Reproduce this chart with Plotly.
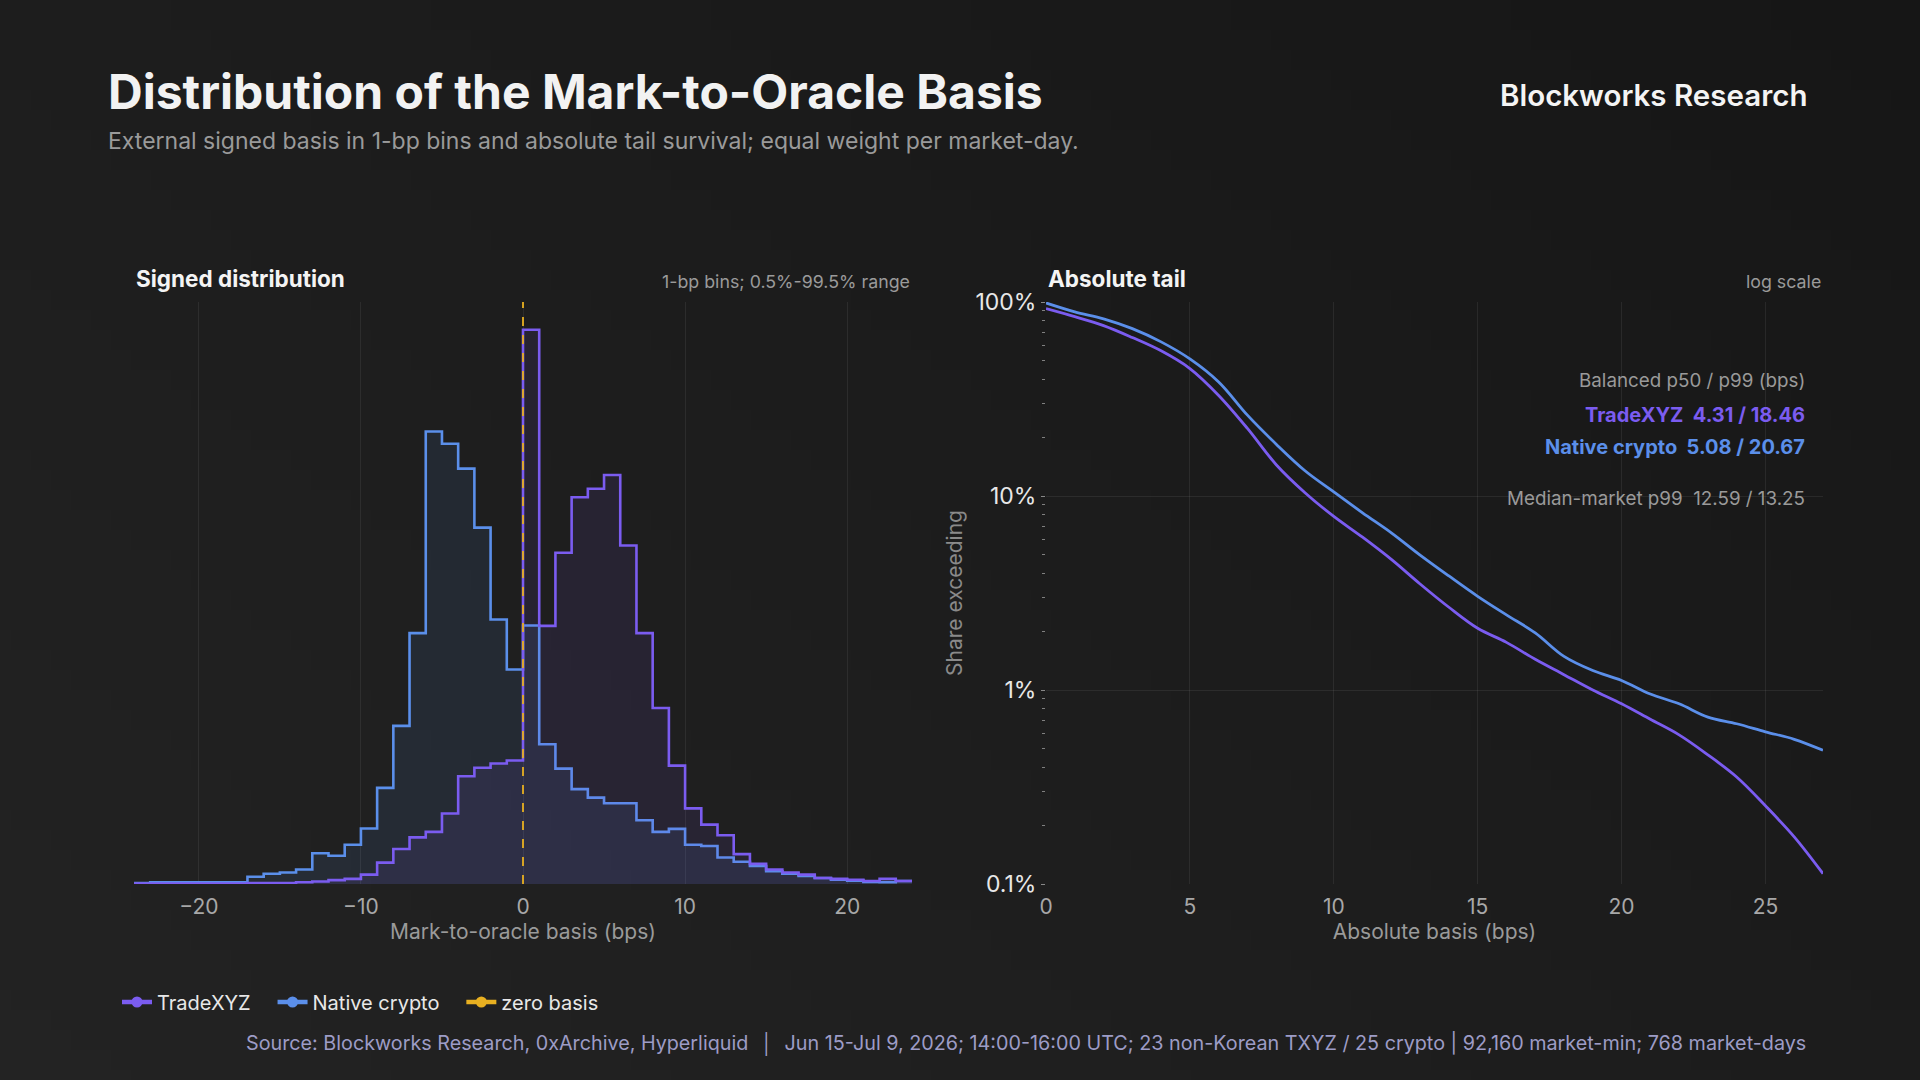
import base64
import struct
import zlib

import plotly.graph_objects as go
from plotly.subplots import make_subplots

# ---------------- data ----------------
bin_left_edges = list(range(-24, 24))  # 1-bp bins from -24 to 23 (left edges)
bin_right_end = 24

# share per 1-bp bin (%), signed basis
tradexyz_hist = [0.01, 0.01, 0.01, 0.01, 0.01, 0.01, 0.01, 0.02, 0.02, 0.02,
                 0.04, 0.06, 0.09, 0.12, 0.22, 0.50, 0.82, 1.09, 1.22, 1.65,
                 2.52, 2.72, 2.82, 2.89, 12.97, 6.04, 7.75, 9.05, 9.25, 9.57,
                 7.92, 5.87, 4.12, 2.77, 1.77, 1.39, 1.14, 0.70, 0.47, 0.34,
                 0.27, 0.22, 0.14, 0.12, 0.10, 0.07, 0.12, 0.07]
native_hist = [0.02, 0.04, 0.04, 0.04, 0.04, 0.04, 0.04, 0.17, 0.24, 0.27,
               0.34, 0.72, 0.66, 0.92, 1.30, 2.25, 3.70, 5.87, 10.59, 10.30,
               9.72, 8.34, 6.19, 5.02, 6.05, 3.27, 2.70, 2.22, 2.02, 1.89,
               1.89, 1.49, 1.22, 1.29, 0.92, 0.89, 0.62, 0.52, 0.42, 0.30,
               0.24, 0.19, 0.14, 0.10, 0.08, 0.05, 0.04, 0.07]

# survival curve: share of |basis| exceeding threshold (%)
tail_x = list(range(0, 28))
tradexyz_tail = [92.4, 84.0, 75.6, 65.6, 56.0, 45.4, 33.0, 22.3, 14.5, 10.4,
                 7.85, 6.13, 4.71, 3.52, 2.67, 2.08, 1.76, 1.44, 1.20, 1.00,
                 0.849, 0.706, 0.587, 0.463, 0.356, 0.253, 0.175, 0.113]
native_tail = [98.9, 89.0, 81.9, 72.9, 62.3, 50.9, 38.7, 26.1, 18.5, 13.5,
               10.5, 8.19, 6.46, 4.96, 3.87, 3.04, 2.44, 1.97, 1.49, 1.26,
               1.12, 0.953, 0.849, 0.725, 0.670, 0.609, 0.557, 0.489]

left_ticks = [-20, -10, 0, 10, 20]
right_xticks = [0, 5, 10, 15, 20, 25]
right_yticks = [0.1, 1, 10, 100]
right_yticklabels = ["0.1%", "1%", "10%", "100%"]
right_yminor = [m * d for d in (0.1, 1, 10) for m in range(2, 10)]

stats_header = "Balanced p50 / p99 (bps)"
stats_txyz = "TradeXYZ  4.31 / 18.46"
stats_native = "Native crypto  5.08 / 20.67"
stats_median = "Median-market p99  12.59 / 13.25"

# ---------------- style ----------------
BG = "#1b1b1b"
PURPLE = "#7B5CF0"
BLUE = "#5B8FEA"
YELLOW = "#E8B021"
FONT = "Inter"
GRID = "rgba(255,255,255,0.07)"
NB = "\u00a0"


def gradient_png(w=96, h=54):
    # diagonal background gradient: lighter bottom-left, darker top-right
    rows = b""
    for j in range(h):
        row = b"\x00"
        for i in range(w):
            t = (i / (w - 1)) * 0.55 + (1 - j / (h - 1)) * 0.45
            v = int(round(35 - t * 13))
            row += bytes((v, v, v))
        rows += row

    def chunk(tag, data):
        c = struct.pack(">I", len(data)) + tag + data
        return c + struct.pack(">I", zlib.crc32(tag + data) & 0xFFFFFFFF)

    png = b"\x89PNG\r\n\x1a\n"
    png += chunk(b"IHDR", struct.pack(">IIBBBBB", w, h, 8, 2, 0, 0, 0))
    png += chunk(b"IDAT", zlib.compress(rows, 9))
    png += chunk(b"IEND", b"")
    return "data:image/png;base64," + base64.b64encode(png).decode()


fig = make_subplots(rows=1, cols=2)

hx = bin_left_edges + [bin_right_end]
fig.add_trace(go.Scatter(
    x=hx, y=native_hist + [native_hist[-1]], mode="lines", line_shape="hv",
    line=dict(color=BLUE, width=2.6), fill="tozeroy",
    fillcolor="rgba(91,143,234,0.10)", showlegend=False, hoverinfo="skip"),
    row=1, col=1)
fig.add_trace(go.Scatter(
    x=hx, y=tradexyz_hist + [tradexyz_hist[-1]], mode="lines", line_shape="hv",
    line=dict(color=PURPLE, width=2.6), fill="tozeroy",
    fillcolor="rgba(123,92,240,0.10)", showlegend=False, hoverinfo="skip"),
    row=1, col=1)
ymax_left = max(tradexyz_hist) * 1.05
fig.add_trace(go.Scatter(
    x=[0, 0], y=[0, ymax_left], mode="lines",
    line=dict(color=YELLOW, width=1.8, dash="dash"),
    showlegend=False, hoverinfo="skip"), row=1, col=1)

fig.add_trace(go.Scatter(
    x=tail_x, y=native_tail, mode="lines", line_shape="spline",
    line=dict(color=BLUE, width=2.8), showlegend=False), row=1, col=2)
fig.add_trace(go.Scatter(
    x=tail_x, y=tradexyz_tail, mode="lines", line_shape="spline",
    line=dict(color=PURPLE, width=2.8), showlegend=False), row=1, col=2)

# legend-only traces
for name, col in [("TradeXYZ", PURPLE), ("Native crypto", BLUE), ("zero basis", YELLOW)]:
    fig.add_trace(go.Scatter(x=[None], y=[None], mode="lines+markers", name=name + NB * 3,
                             line=dict(color=col, width=4.5),
                             marker=dict(color=col, size=11)), row=1, col=1)

ydom = [1 - 884 / 1080, 1 - 302 / 1080]
fig.update_xaxes(row=1, col=1, domain=[134 / 1920, 912 / 1920], range=[-24, 24],
                 tickvals=left_ticks, showgrid=True, gridcolor=GRID, zeroline=False,
                 showline=False, ticks="", ticklabelstandoff=8, automargin=False,
                 tickfont=dict(size=21, color="#a8a8a8", family=FONT),
                 title=dict(text="Mark-to-oracle basis (bps)", standoff=6,
                            font=dict(size=21, color="#9a9a9a", family=FONT)))
fig.update_yaxes(row=1, col=1, domain=ydom, range=[0, ymax_left], visible=False,
                 showgrid=False, automargin=False)

fig.update_xaxes(row=1, col=2, domain=[1046 / 1920, 1823 / 1920], range=[0, 27],
                 tickvals=right_xticks, showgrid=True, gridcolor=GRID, zeroline=False,
                 showline=False, ticks="", ticklabelstandoff=8, automargin=False,
                 tickfont=dict(size=21, color="#a8a8a8", family=FONT),
                 title=dict(text="Absolute basis (bps)", standoff=6,
                            font=dict(size=21, color="#9a9a9a", family=FONT)))
fig.update_yaxes(row=1, col=2, domain=ydom, type="log", range=[-1, 2],
                 tickvals=right_yticks, ticktext=right_yticklabels, automargin=False,
                 showgrid=True, gridcolor=GRID, zeroline=False,
                 showline=False, ticks="outside", ticklen=4, tickcolor="#888888",
                 minor=dict(tickvals=right_yminor, ticks="outside", ticklen=3,
                            tickcolor="#808080", showgrid=False),
                 tickfont=dict(size=23, color="#e8e8e8", family=FONT),
                 title=dict(text="Share exceeding", standoff=7,
                            font=dict(size=21, color="#8a8a8a", family=FONT)))

ann = []


def txt(x, y, s, size, color, xa="left", ya="middle", weight="normal"):
    ann.append(dict(x=x, y=y, xref="paper", yref="paper", text=s,
                    showarrow=False, xanchor=xa, yanchor=ya,
                    font=dict(size=size, color=color, family=FONT, weight=weight)))


txt(106 / 1920, 1 - 91 / 1080, "Distribution of the Mark-to-Oracle Basis", 48, "#f2f2f2", weight="bold")
txt(106 / 1920, 1 - 141 / 1080,
    "External signed basis in 1-bp bins and absolute tail survival; equal weight per market-day.",
    23, "#9a9a9a")
txt(1810 / 1920, 1 - 95 / 1080, "Blockworks Research", 29.5, "#f4f4f4", xa="right", weight=600)

txt(134 / 1920, 1 - 279 / 1080, "Signed distribution", 22.5, "#f4f4f4", weight="bold")
txt(912 / 1920, 1 - 282 / 1080, "1-bp bins; 0.5%-99.5% range", 17.8, "#9a9a9a", xa="right")
txt(1046 / 1920, 1 - 279 / 1080, "Absolute tail", 22.5, "#f4f4f4", weight="bold")
txt(1823 / 1920, 1 - 282 / 1080, "log scale", 17.8, "#9a9a9a", xa="right")

txt(1807 / 1920, 1 - 380 / 1080, stats_header, 18.8, "#9a9a9a", xa="right")
txt(1807 / 1920, 1 - 415 / 1080, stats_txyz, 20, PURPLE, xa="right", weight="bold")
txt(1807 / 1920, 1 - 447 / 1080, stats_native, 20, BLUE, xa="right", weight="bold")
txt(1807 / 1920, 1 - 498 / 1080, stats_median, 18.8, "#9a9a9a", xa="right")

txt(1808 / 1920, 1 - 1043 / 1080,
    "Source: Blockworks Research, 0xArchive, Hyperliquid  \u2502  Jun 15-Jul 9, 2026; 14:00-16:00 UTC; "
    "23 non-Korean TXYZ / 25 crypto | 92,160 market-min; 768 market-days",
    19.75, "#9d9cc6", xa="right")

fig.update_layout(
    width=1920, height=1080,
    margin=dict(l=0, r=0, t=0, b=0, pad=0, autoexpand=False),
    paper_bgcolor=BG, plot_bgcolor="rgba(0,0,0,0)",
    font=dict(family=FONT, color="#cccccc"),
    annotations=ann,
    images=[dict(source=gradient_png(), xref="paper", yref="paper", x=0, y=1,
                 sizex=1, sizey=1, sizing="stretch", layer="below",
                 xanchor="left", yanchor="top")],
    showlegend=True,
    legend=dict(orientation="h", x=117 / 1920, y=1 - 1002 / 1080, xanchor="left",
                yanchor="middle", font=dict(size=20, color="#e8e8e8", family=FONT),
                bgcolor="rgba(0,0,0,0)", tracegroupgap=0),
)

post = (
    "var s='margin:0;padding:0;overflow:hidden;width:1920px;height:1080px;background:#1b1b1b;';"
    "document.documentElement.style.cssText=s;document.body.style.cssText=s;"
)
fig.write_html("out.html", config={"displayModeBar": False}, post_script=post)
